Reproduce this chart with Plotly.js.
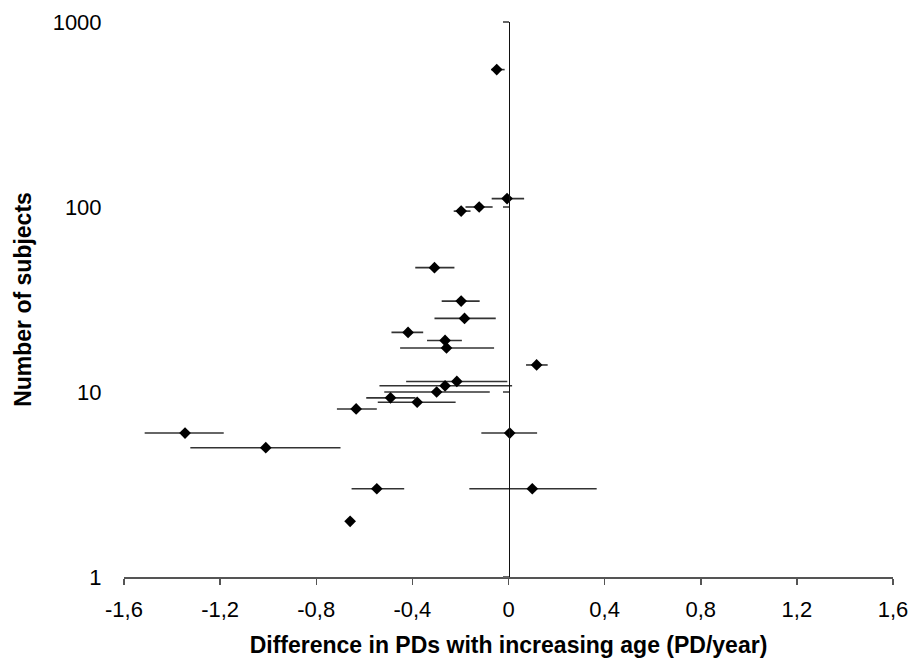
<!DOCTYPE html>
<html>
<head>
<meta charset="utf-8">
<script src="https://cdn.plot.ly/plotly-3.0.1.min.js"></script>
<style>
html,body{margin:0;padding:0;background:#fff;}
#chart{width:911px;height:664px;}
</style>
</head>
<body>
<div id="chart"></div>
<script>
// Difference in PDs with increasing age (PD/year) per study
const diffPerYear = [-0.049, -0.006, -0.122, -0.197, -0.308, -0.197, -0.183, -0.418, -0.264, -0.258, 0.117, -0.215, -0.264, -0.299, -0.491, -0.380, -0.634, -1.346, -1.010, -0.548, -0.659, 0.005, 0.099];
// Number of subjects per study
const subjects = [553, 111, 100, 95, 47, 31, 25, 21, 19, 17.3, 14, 11.4, 10.8, 10, 9.3, 8.8, 8.1, 6, 5, 3, 2, 6, 3];
// Confidence interval lower / upper bounds
const ciLow  = [-0.072, -0.070, -0.179, -0.228, -0.388, -0.278, -0.308, -0.487, -0.339, -0.451, 0.073, -0.426, -0.537, -0.517, -0.592, -0.544, -0.714, -1.514, -1.324, -0.653, -0.659, -0.113, -0.163];
const ciHigh = [-0.016, 0.065, -0.066, -0.158, -0.225, -0.120, -0.053, -0.355, -0.194, -0.060, 0.163, -0.005, 0.015, -0.078, -0.387, -0.220, -0.548, -1.185, -0.699, -0.434, -0.659, 0.119, 0.367];

const xTickVals = [-1.6, -1.2, -0.8, -0.4, 0, 0.4, 0.8, 1.2, 1.6];
const xTickText = ['-1,6', '-1,2', '-0,8', '-0,4', '0', '0,4', '0,8', '1,2', '1,6'];
const yTickVals = [1, 10, 100, 1000];
const yTickText = ['1', '10', '100', '1000'];

const plus = diffPerYear.map((v, i) => ciHigh[i] - v);
const minus = diffPerYear.map((v, i) => v - ciLow[i]);

const FONT = 'Arial, "Liberation Sans", sans-serif';

const trace = {
  type: 'scatter',
  mode: 'markers',
  x: diffPerYear,
  y: subjects,
  marker: {symbol: 'diamond', size: 9, color: '#000'},
  error_x: {type: 'data', array: plus, arrayminus: minus, symmetric: false, width: 0, thickness: 1.6, color: '#333'},
  showlegend: false,
  hoverinfo: 'x+y'
};

const layout = {
  width: 911,
  height: 664,
  margin: {l: 124, r: 18, t: 22, b: 87},
  paper_bgcolor: '#fff',
  plot_bgcolor: '#fff',
  font: {family: FONT, color: '#000'},
  xaxis: {
    range: [-1.6, 1.6],
    tickvals: xTickVals,
    ticktext: xTickText,
    showgrid: false,
    zeroline: false,
    showline: true,
    linecolor: '#555',
    linewidth: 1.5,
    ticks: 'outside',
    ticklen: 6,
    tickwidth: 1.5,
    tickcolor: '#555',
    ticklabelstandoff: 6,
    tickfont: {size: 22, family: FONT, color: '#000'},
    title: {text: 'Difference in PDs with increasing age (PD/year)', font: {size: 23, family: FONT, color: '#000', weight: 'bold'}, standoff: 16},
    fixedrange: true
  },
  yaxis: {
    type: 'log',
    range: [0, 3],
    tickvals: yTickVals,
    ticktext: yTickText,
    showgrid: false,
    zeroline: false,
    showline: false,
    ticks: 'outside',
    ticklen: 17,
    tickcolor: 'rgba(0,0,0,0)',
    tickfont: {size: 22, family: FONT, color: '#000'},
    title: {text: 'Number of subjects', font: {size: 23, family: FONT, color: '#000', weight: 'bold'}, standoff: 14},
    fixedrange: true
  },
  yaxis2: {
    type: 'log',
    range: [0, 3],
    overlaying: 'y',
    anchor: 'free',
    position: 0.5,
    side: 'left',
    tickvals: yTickVals,
    showticklabels: false,
    showgrid: false,
    zeroline: false,
    showline: true,
    linecolor: '#111',
    linewidth: 1.5,
    ticks: 'outside',
    ticklen: 6,
    tickwidth: 1.5,
    tickcolor: '#666',
    fixedrange: true
  }
};

// dummy trace to activate yaxis2
const axisTrace = {type: 'scatter', mode: 'markers', x: [0], y: [1], yaxis: 'y2', marker: {opacity: 0}, showlegend: false, hoverinfo: 'skip'};

Plotly.newPlot('chart', [trace, axisTrace], layout, {displayModeBar: false, staticPlot: true});
</script>
</body>
</html>
